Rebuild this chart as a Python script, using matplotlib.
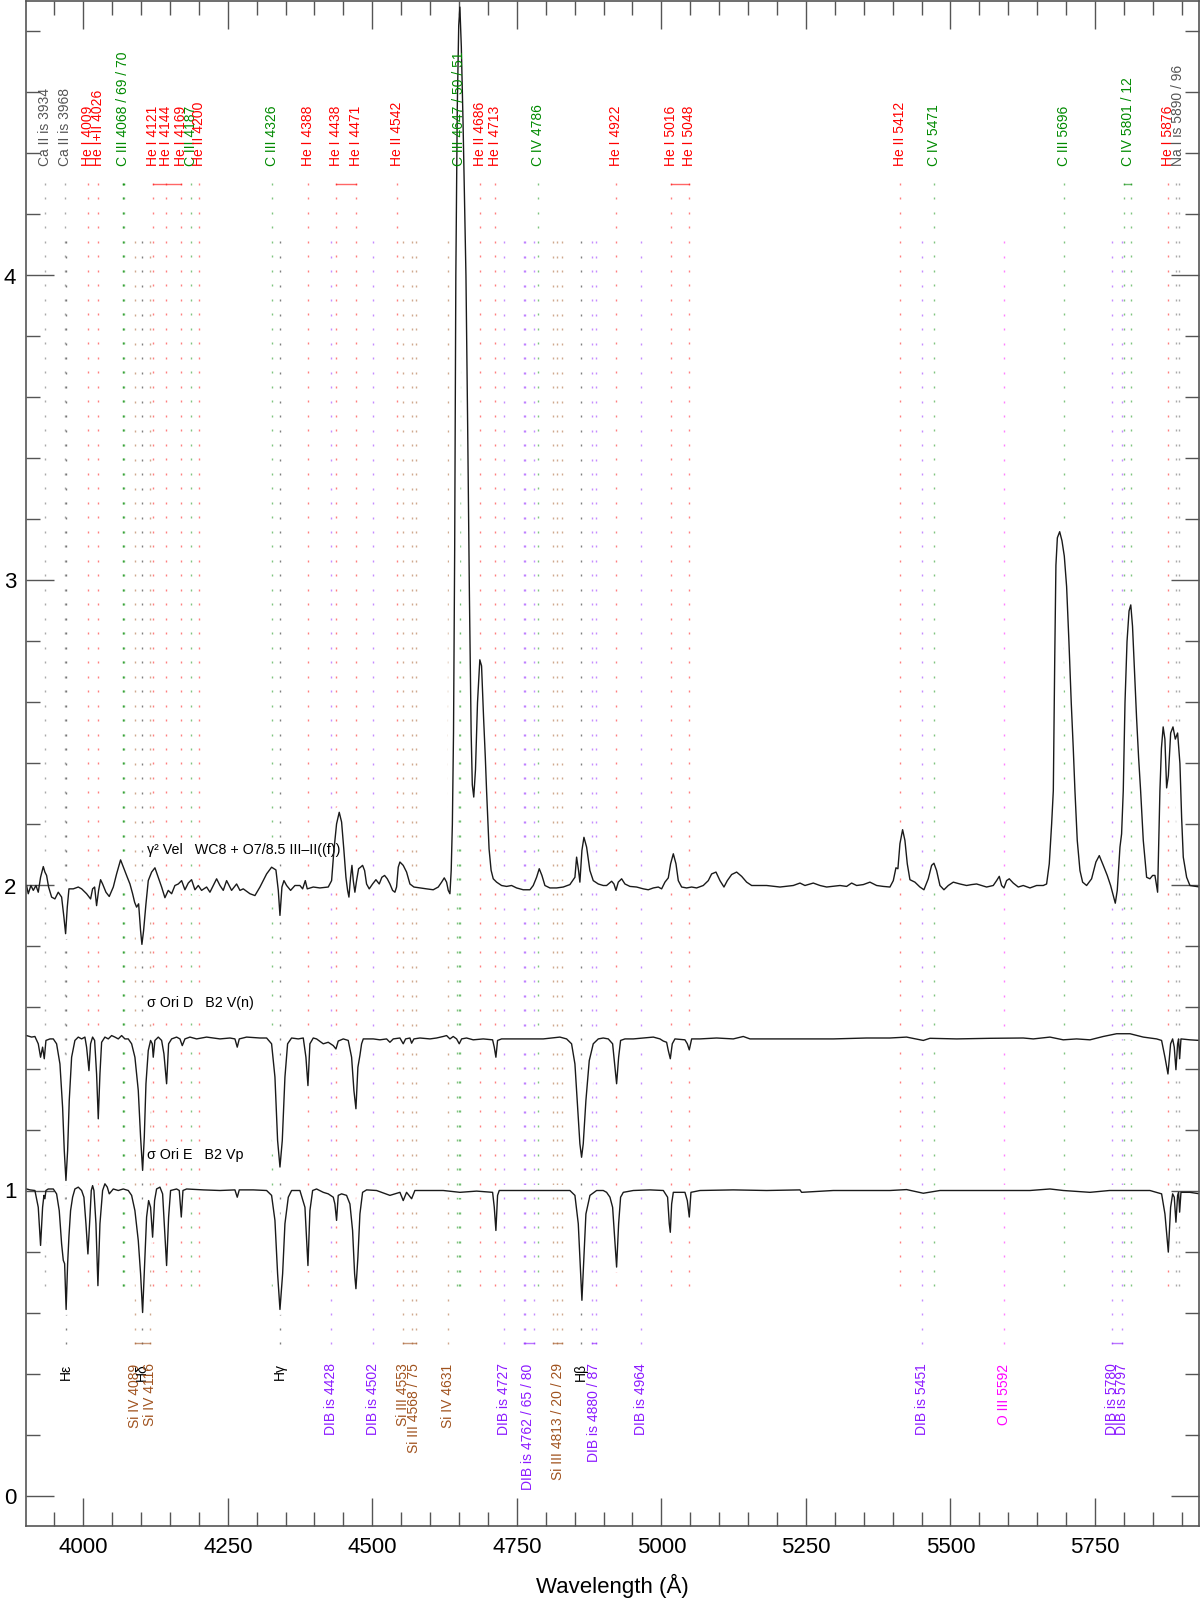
import numpy as np
import matplotlib.pyplot as plt
from matplotlib.ticker import MultipleLocator

plt.rcParams['font.family'] = ['Liberation Sans', 'DejaVu Sans']

# ---- spectra (flux already offset as plotted) ----
vel_wave = [3902.0, 3904.9, 3909.5, 3913.6, 3918.2, 3922.2, 3926.2, 3930.9, 3933.7, 3936.6,
            3940.1, 3945.3, 3951.0, 3956.8, 3962.6, 3966.6, 3969.5, 3972.4, 3975.3, 3982.8,
            3991.4, 3997.2, 4005.8, 4012.7, 4016.2, 4019.7, 4023.1, 4026.6, 4030.0, 4033.5,
            4039.3, 4045.0, 4052.0, 4057.7, 4064.6, 4070.4, 4076.2, 4080.8, 4085.4, 4088.9,
            4092.3, 4095.8, 4099.2, 4101.5, 4104.4, 4108.5, 4112.5, 4118.3, 4124.0, 4129.8,
            4135.6, 4141.3, 4147.1, 4152.9, 4158.6, 4164.4, 4170.2, 4175.9, 4181.7, 4187.4,
            4193.2, 4199.0, 4204.7, 4213.4, 4219.2, 4224.9, 4230.7, 4236.5, 4242.2, 4248.0,
            4256.6, 4265.3, 4271.1, 4276.8, 4288.4, 4297.0, 4305.7, 4317.2, 4325.8, 4333.3,
            4337.4, 4340.3, 4343.7, 4347.2, 4351.8, 4358.7, 4366.2, 4374.8, 4379.5, 4384.1,
            4387.5, 4397.9, 4409.4, 4423.8, 4429.6, 4433.6, 4438.2, 4442.8, 4446.9, 4450.9,
            4454.4, 4457.3, 4459.6, 4462.4, 4464.8, 4467.1, 4469.9, 4472.8, 4476.3, 4479.7,
            4483.2, 4486.7, 4490.1, 4494.7, 4500.5, 4506.3, 4512.0, 4516.6, 4521.3, 4525.9,
            4530.5, 4535.1, 4539.1, 4542.0, 4544.9, 4547.8, 4553.5, 4559.3, 4565.1, 4572.0,
            4582.4, 4593.9, 4605.4, 4614.1, 4619.9, 4624.5, 4628.5, 4631.4, 4634.3, 4636.5,
            4638.5, 4640.5, 4642.5, 4644.5, 4647.0, 4649.5, 4651.5, 4654.0, 4657.0, 4660.0,
            4662.0, 4665.0, 4668.0, 4671.0, 4673.0, 4675.5, 4678.5, 4682.0, 4686.0, 4689.0,
            4692.5, 4695.5, 4697.7, 4702.0, 4705.5, 4709.2, 4715.0, 4723.6, 4732.3, 4740.9,
            4749.6, 4761.1, 4772.7, 4778.4, 4784.2, 4788.8, 4793.4, 4798.6, 4807.2, 4818.8,
            4830.3, 4841.8, 4850.5, 4853.4, 4856.8, 4859.1, 4862.6, 4866.1, 4870.7, 4876.4,
            4882.2, 4890.9, 4899.5, 4905.3, 4914.0, 4918.0, 4921.5, 4925.5, 4931.3, 4937.0,
            4945.7, 4957.2, 4968.8, 4977.4, 4986.1, 4994.7, 5000.5, 5006.2, 5012.0, 5016.0,
            5020.7, 5025.3, 5029.3, 5035.1, 5043.7, 5052.4, 5061.0, 5072.5, 5081.2, 5087.0,
            5094.5, 5101.4, 5108.3, 5114.1, 5121.6, 5130.2, 5138.9, 5147.5, 5156.2, 5182.1,
            5205.2, 5228.2, 5239.8, 5248.4, 5262.8, 5274.4, 5285.9, 5309.0, 5320.5, 5329.1,
            5337.8, 5349.3, 5360.8, 5372.4, 5383.9, 5395.4, 5401.2, 5405.8, 5409.2, 5412.7,
            5417.3, 5421.3, 5425.4, 5430.0, 5438.6, 5447.3, 5454.2, 5461.7, 5467.5, 5471.5,
            5476.1, 5481.9, 5488.8, 5496.3, 5505.0, 5516.5, 5528.0, 5536.7, 5545.3, 5554.0,
            5562.6, 5574.1, 5579.9, 5584.5, 5588.6, 5592.6, 5597.2, 5601.8, 5608.7, 5617.4,
            5626.0, 5637.6, 5649.1, 5660.6, 5666.4, 5671.0, 5675.1, 5678.0, 5680.5, 5682.5,
            5685.0, 5689.0, 5693.0, 5697.0, 5701.0, 5705.0, 5709.0, 5712.5, 5715.4, 5719.4,
            5724.1, 5728.7, 5735.6, 5744.2, 5751.7, 5757.5, 5764.4, 5771.3, 5777.1, 5781.7,
            5785.2, 5788.6, 5793.3, 5796.1, 5799.0, 5802.0, 5805.5, 5809.0, 5812.0, 5815.0,
            5818.5, 5822.0, 5825.5, 5829.0, 5833.6, 5839.4, 5845.1, 5849.8, 5853.8, 5858.4,
            5862.4, 5865.0, 5868.0, 5871.0, 5874.0, 5877.0, 5881.0, 5885.0, 5889.0, 5893.0,
            5897.0, 5900.0, 5902.8, 5908.6, 5914.3, 5931.6]
vel_flux = [2.000, 1.973, 2.000, 1.984, 2.000, 1.978, 2.027, 2.062, 2.044, 2.033,
            1.995, 1.962, 1.956, 1.978, 1.962, 1.896, 1.842, 1.929, 1.989, 1.989,
            1.995, 1.989, 1.973, 1.956, 1.989, 1.995, 1.934, 1.984, 2.019, 2.005,
            1.978, 1.964, 1.995, 2.038, 2.084, 2.055, 2.027, 2.005, 1.973, 1.945,
            1.929, 1.940, 1.852, 1.807, 1.852, 1.940, 2.016, 2.044, 2.058, 2.027,
            1.995, 1.960, 1.984, 1.973, 2.000, 2.005, 2.016, 1.986, 2.008, 2.019,
            1.986, 2.000, 1.984, 1.995, 1.978, 2.000, 2.022, 2.000, 1.984, 2.016,
            1.984, 2.005, 1.984, 1.989, 1.973, 1.967, 1.995, 2.038, 2.060, 2.051,
            1.984, 1.902, 1.995, 2.016, 2.000, 1.984, 2.000, 2.000, 1.989, 2.016,
            1.989, 1.995, 1.992, 1.995, 2.016, 2.115, 2.202, 2.240, 2.208, 2.115,
            2.027, 1.984, 1.962, 2.027, 2.066, 2.016, 1.978, 2.016, 2.055, 2.060,
            2.066, 2.049, 2.005, 1.989, 2.005, 2.019, 2.005, 2.027, 2.033, 2.022,
            2.005, 1.984, 1.978, 1.995, 2.060, 2.077, 2.066, 2.044, 2.005, 1.995,
            1.992, 1.989, 1.986, 1.995, 2.011, 2.025, 2.011, 1.984, 1.973, 2.050,
            2.200, 2.500, 3.100, 4.000, 4.550, 4.820, 4.880, 4.750, 4.500, 4.200,
            4.000, 3.500, 2.950, 2.500, 2.330, 2.290, 2.380, 2.600, 2.740, 2.720,
            2.550, 2.420, 2.310, 2.120, 2.050, 2.022, 2.011, 2.000, 1.997, 2.000,
            1.992, 1.986, 1.986, 2.000, 2.027, 2.055, 2.033, 2.000, 1.992, 1.992,
            1.995, 2.003, 2.027, 2.093, 2.049, 2.011, 2.115, 2.158, 2.126, 2.049,
            2.016, 2.005, 2.000, 2.000, 2.014, 2.005, 1.984, 2.011, 2.022, 2.005,
            1.997, 1.995, 1.989, 1.986, 1.992, 1.995, 1.989, 2.011, 2.025, 2.071,
            2.104, 2.071, 2.016, 1.995, 1.992, 1.995, 1.992, 2.000, 2.016, 2.038,
            2.044, 2.016, 1.995, 2.016, 2.036, 2.044, 2.030, 2.011, 2.000, 2.000,
            1.995, 2.000, 2.008, 2.000, 2.008, 2.000, 1.995, 2.000, 1.997, 2.008,
            2.000, 2.003, 2.011, 2.000, 1.997, 1.995, 2.016, 2.058, 2.055, 2.137,
            2.183, 2.148, 2.071, 2.019, 2.011, 1.995, 1.986, 2.022, 2.066, 2.073,
            2.049, 2.000, 1.986, 2.000, 2.011, 2.005, 2.000, 2.003, 2.005, 2.000,
            1.995, 2.000, 2.016, 2.030, 2.000, 1.992, 2.016, 2.022, 2.008, 1.995,
            2.000, 1.992, 2.000, 2.000, 2.005, 2.071, 2.202, 2.311, 2.750, 3.050,
            3.140, 3.160, 3.130, 3.080, 2.980, 2.800, 2.600, 2.450, 2.311, 2.148,
            2.049, 2.011, 2.000, 2.022, 2.077, 2.098, 2.066, 2.033, 2.000, 1.967,
            1.942, 1.984, 2.126, 2.169, 2.311, 2.600, 2.800, 2.900, 2.920, 2.850,
            2.700, 2.550, 2.420, 2.311, 2.148, 2.027, 2.022, 2.033, 2.033, 1.978,
            2.311, 2.450, 2.520, 2.480, 2.320, 2.360, 2.500, 2.520, 2.480, 2.500,
            2.400, 2.220, 2.093, 2.027, 2.000, 1.995]

orid_wave = [3902.0, 3910.7, 3916.4, 3922.2, 3926.2, 3929.7, 3932.6, 3935.5, 3942.4, 3948.2,
             3953.9, 3959.7, 3964.3, 3967.2, 3970.1, 3973.0, 3975.8, 3979.9, 3985.6, 3991.4,
             3997.2, 4002.9, 4005.8, 4009.9, 4012.7, 4016.2, 4019.7, 4023.1, 4026.0, 4028.9,
             4031.8, 4037.5, 4043.3, 4049.1, 4054.8, 4060.6, 4066.4, 4072.1, 4077.9, 4083.7,
             4089.4, 4095.2, 4099.2, 4102.7, 4105.6, 4108.5, 4112.5, 4116.5, 4119.4, 4121.1,
             4124.0, 4129.8, 4135.6, 4139.6, 4144.2, 4147.7, 4152.9, 4161.5, 4167.3, 4171.3,
             4175.9, 4184.6, 4196.1, 4213.4, 4236.5, 4253.8, 4262.4, 4266.4, 4269.9, 4282.6,
             4305.7, 4317.2, 4325.8, 4331.6, 4336.2, 4340.3, 4344.3, 4348.9, 4353.5, 4360.4,
             4372.0, 4380.6, 4385.2, 4388.7, 4392.1, 4397.9, 4403.6, 4415.2, 4423.8, 4432.5,
             4437.1, 4441.1, 4449.8, 4458.4, 4464.2, 4468.2, 4471.7, 4475.1, 4478.6, 4481.5,
             4484.4, 4501.7, 4513.2, 4524.7, 4530.5, 4536.3, 4547.8, 4553.5, 4557.6, 4565.1,
             4568.0, 4572.0, 4582.4, 4599.7, 4611.2, 4622.7, 4628.5, 4634.3, 4640.0, 4645.8,
             4650.4, 4654.5, 4663.1, 4674.6, 4691.9, 4708.1, 4711.0, 4713.8, 4716.7, 4723.6,
             4766.9, 4795.7, 4824.5, 4836.1, 4844.7, 4850.5, 4855.1, 4859.1, 4862.0, 4864.9,
             4869.5, 4875.3, 4882.2, 4890.9, 4899.5, 4908.2, 4915.7, 4919.2, 4922.6, 4926.1,
             4929.5, 4937.0, 4951.5, 4968.8, 4986.1, 4997.6, 5003.4, 5009.1, 5012.0, 5015.5,
             5018.9, 5023.5, 5040.8, 5044.9, 5048.3, 5052.4, 5066.8, 5095.6, 5124.4, 5141.7,
             5153.3, 5182.1, 5239.8, 5297.4, 5355.1, 5395.4, 5424.2, 5453.1, 5464.6, 5510.7,
             5568.4, 5626.0, 5643.3, 5672.2, 5695.2, 5718.3, 5741.4, 5764.4, 5787.5, 5810.6,
             5833.6, 5856.7, 5865.3, 5871.1, 5876.3, 5880.9, 5884.4, 5887.2, 5890.1, 5893.0,
             5894.7, 5896.5, 5898.8, 5914.3, 5931.6]
orid_flux = [1.508, 1.503, 1.505, 1.481, 1.437, 1.470, 1.432, 1.492, 1.497, 1.497,
             1.481, 1.415, 1.273, 1.131, 1.033, 1.131, 1.295, 1.437, 1.492, 1.503,
             1.497, 1.503, 1.470, 1.393, 1.481, 1.503, 1.492, 1.382, 1.235, 1.382,
             1.486, 1.503, 1.497, 1.508, 1.503, 1.497, 1.508, 1.497, 1.497, 1.481,
             1.437, 1.328, 1.175, 1.066, 1.175, 1.350, 1.459, 1.492, 1.481, 1.437,
             1.492, 1.503, 1.492, 1.448, 1.350, 1.481, 1.497, 1.503, 1.497, 1.475,
             1.497, 1.503, 1.497, 1.503, 1.497, 1.500, 1.497, 1.470, 1.497, 1.503,
             1.500, 1.500, 1.481, 1.372, 1.164, 1.077, 1.164, 1.372, 1.481, 1.500,
             1.497, 1.500, 1.437, 1.344, 1.481, 1.500, 1.497, 1.481, 1.486, 1.475,
             1.464, 1.490, 1.497, 1.492, 1.437, 1.328, 1.268, 1.404, 1.443, 1.481,
             1.497, 1.497, 1.494, 1.497, 1.486, 1.497, 1.500, 1.481, 1.497, 1.500,
             1.483, 1.497, 1.500, 1.497, 1.500, 1.505, 1.508, 1.497, 1.505, 1.497,
             1.481, 1.497, 1.500, 1.494, 1.497, 1.494, 1.470, 1.437, 1.492, 1.497,
             1.497, 1.497, 1.503, 1.497, 1.481, 1.415, 1.273, 1.153, 1.109, 1.153,
             1.295, 1.426, 1.481, 1.497, 1.500, 1.497, 1.481, 1.415, 1.350, 1.437,
             1.492, 1.497, 1.497, 1.500, 1.503, 1.497, 1.490, 1.486, 1.459, 1.432,
             1.481, 1.497, 1.494, 1.481, 1.461, 1.497, 1.497, 1.500, 1.497, 1.505,
             1.497, 1.497, 1.497, 1.497, 1.500, 1.500, 1.503, 1.492, 1.499, 1.497,
             1.499, 1.500, 1.497, 1.503, 1.494, 1.497, 1.494, 1.505, 1.514, 1.514,
             1.503, 1.497, 1.492, 1.437, 1.382, 1.481, 1.497, 1.470, 1.396, 1.481,
             1.497, 1.432, 1.497, 1.494, 1.492]

orie_wave = [3902.0, 3907.8, 3916.4, 3922.2, 3926.2, 3929.7, 3932.0, 3933.7, 3935.5, 3939.5,
             3948.2, 3953.9, 3958.5, 3962.6, 3965.5, 3967.8, 3970.4, 3973.0, 3975.3, 3978.1,
             3981.6, 3985.6, 3991.4, 3997.2, 4001.2, 4004.7, 4008.1, 4011.6, 4013.9, 4016.2,
             4018.5, 4022.0, 4025.4, 4028.9, 4033.5, 4037.5, 4041.6, 4045.0, 4052.0, 4060.6,
             4069.2, 4077.9, 4083.7, 4089.4, 4095.2, 4099.2, 4102.7, 4106.7, 4109.6, 4113.1,
             4116.5, 4120.0, 4123.4, 4126.9, 4132.7, 4137.3, 4140.2, 4144.2, 4147.7, 4151.1,
             4161.5, 4166.1, 4169.6, 4172.5, 4178.8, 4207.6, 4236.5, 4262.4, 4266.4, 4269.9,
             4294.1, 4317.2, 4325.8, 4331.6, 4336.2, 4340.3, 4344.9, 4348.9, 4354.7, 4360.4,
             4374.8, 4383.5, 4388.7, 4392.1, 4396.8, 4403.6, 4415.2, 4423.8, 4432.5, 4435.3,
             4438.2, 4441.1, 4446.9, 4455.5, 4461.3, 4465.9, 4469.4, 4471.7, 4475.1, 4478.6,
             4483.2, 4490.1, 4507.4, 4530.5, 4547.8, 4553.5, 4559.3, 4568.0, 4573.7, 4593.9,
             4622.7, 4651.6, 4680.4, 4708.1, 4711.0, 4713.8, 4716.7, 4719.6, 4766.9, 4795.7,
             4841.8, 4850.5, 4856.3, 4860.3, 4862.6, 4866.1, 4869.5, 4876.5, 4888.0, 4899.5,
             4905.3, 4911.1, 4915.7, 4919.2, 4922.6, 4926.1, 4929.5, 4934.2, 4951.5, 4980.3,
             5003.4, 5010.8, 5013.7, 5015.5, 5017.8, 5020.7, 5040.8, 5044.9, 5048.3, 5051.2,
             5066.8, 5124.4, 5182.1, 5239.8, 5242.6, 5297.4, 5355.1, 5395.4, 5424.2, 5453.1,
             5481.9, 5539.6, 5597.2, 5637.6, 5672.2, 5695.2, 5741.4, 5775.2, 5799.0, 5845.1,
             5865.3, 5871.1, 5876.9, 5880.9, 5884.4, 5887.2, 5890.1, 5893.0, 5894.7, 5896.5,
             5898.8, 5914.3, 5931.6]
orie_flux = [1.005, 1.002, 1.000, 0.945, 0.820, 0.945, 0.984, 0.973, 1.000, 1.005,
             1.005, 0.989, 0.934, 0.825, 0.771, 0.760, 0.610, 0.760, 0.850, 0.934,
             0.978, 1.005, 1.011, 1.000, 0.978, 0.891, 0.792, 0.913, 1.000, 1.016,
             1.000, 0.891, 0.688, 0.891, 1.000, 1.022, 1.011, 0.989, 1.005, 1.000,
             1.005, 1.000, 0.984, 0.934, 0.836, 0.727, 0.600, 0.781, 0.913, 0.967,
             0.945, 0.847, 0.967, 1.005, 1.011, 0.989, 0.891, 0.754, 0.913, 1.000,
             1.005, 1.000, 0.913, 1.000, 1.005, 1.002, 1.000, 1.002, 0.978, 1.002,
             1.002, 1.000, 0.984, 0.902, 0.727, 0.610, 0.727, 0.891, 0.978, 1.000,
             1.000, 0.945, 0.754, 0.934, 1.000, 1.005, 0.994, 0.989, 0.978, 0.956,
             0.902, 0.984, 0.989, 0.984, 0.956, 0.869, 0.727, 0.678, 0.781, 0.923,
             0.994, 1.002, 1.000, 0.984, 0.994, 0.967, 0.994, 0.973, 1.000, 1.000,
             1.000, 0.994, 0.998, 0.994, 0.945, 0.869, 0.984, 1.000, 1.000, 1.000,
             1.000, 0.984, 0.891, 0.727, 0.640, 0.781, 0.923, 0.984, 1.000, 1.000,
             0.994, 0.978, 0.945, 0.847, 0.749, 0.891, 0.978, 0.994, 1.000, 1.002,
             1.000, 0.978, 0.891, 0.863, 0.956, 0.994, 0.994, 0.967, 0.913, 0.994,
             1.000, 1.002, 1.000, 1.002, 0.994, 1.000, 1.000, 1.000, 1.003, 0.991,
             1.000, 1.000, 1.000, 1.000, 1.005, 1.000, 0.994, 1.000, 1.000, 1.000,
             0.989, 0.923, 0.798, 0.945, 0.989, 0.978, 0.896, 0.984, 0.994, 0.929,
             0.994, 0.994, 0.989]

star_names = ['\u03b3\u00b2 Vel   WC8 + O7/8.5 III\u2013II((f))',
              '\u03c3 Ori D   B2 V(n)',
              '\u03c3 Ori E   B2 Vp']
star_levels = [2.0, 1.5, 1.0]

# ---- line identifications ----
top_labels = ['Ca II is 3934', 'Ca II is 3968', 'He I 4009', 'He I+II 4026', 'C III 4068 / 69 / 70',
              'He I 4121', 'He I 4144', 'He I 4169', 'C III 4187', 'He II 4200', 'C III 4326',
              'He I 4388', 'He I 4438', 'He I 4471', 'He II 4542', 'C III 4647 / 50 / 51',
              'He II 4686', 'He I 4713', 'C IV 4786', 'He I 4922', 'He I 5016', 'He I 5048',
              'He II 5412', 'C IV 5471', 'C III 5696', 'C IV 5801 / 12', 'He I 5876',
              'Na I is 5890 / 96']
top_waves = [[3934], [3968], [4009], [4026], [4068, 4069, 4070], [4121], [4144], [4169], [4187],
             [4200], [4326], [4388], [4438], [4471], [4542], [4647, 4650, 4651], [4686], [4713],
             [4786], [4922], [5016], [5048], [5412], [5471], [5696], [5801, 5812], [5876],
             [5890, 5896]]
top_bars = [(4068, 4070), (4121, 4169), (4438, 4471), (4647, 4651), (5016, 5048), (5801, 5812)]

bottom_labels = ['H\u03b5', 'Si IV 4089', 'H\u03b4', 'Si IV 4116', 'H\u03b3', 'DIB is 4428',
                 'DIB is 4502', 'Si III 4553', 'Si III 4568 / 75', 'Si IV 4631', 'DIB is 4727',
                 'DIB is 4762 / 65 / 80', 'Si III 4813 / 20 / 29', 'H\u03b2', 'DIB is 4880 / 87',
                 'DIB is 4964', 'DIB is 5451', 'O III 5592', 'DIB is 5780', 'DIB is 5797']
bottom_waves = [[3970], [4089], [4102], [4116], [4340], [4428], [4502], [4553], [4568, 4575],
                [4631], [4727], [4762, 4765, 4780], [4813, 4820, 4829], [4861], [4880, 4887],
                [4964], [5451], [5592], [5780], [5797]]
bottom_bars = [(4089, 4116), (4553, 4575), (4762, 4780), (4813, 4829), (4880, 4887), (5780, 5797)]


def species_color(label):
    if label.startswith('He'):
        return '#ff0000'
    if label.startswith('C '):
        return '#008a00'
    if label.startswith('Ca') or label.startswith('Na'):
        return '#555555'
    if label.startswith('Si'):
        return '#a0521e'
    if label.startswith('DIB'):
        return '#8c1aff'
    if label.startswith('O '):
        return '#ff00ff'
    return '#000000'


def bar_color(w0, labels, waves):
    for lab, ws in zip(labels, waves):
        if w0 in ws:
            return species_color(lab)
    return '#000000'


fig = plt.figure(figsize=(12, 16.01), dpi=100)
ax = fig.add_axes([26 / 1200, 75 / 1601, 1173 / 1200, 1525 / 1601])

step = 0.0475
ndots = 77
top_start = 4.30
bot_start = 4.109

for labels, waves, start, bars in [(top_labels, top_waves, top_start, top_bars),
                                   (bottom_labels, bottom_waves, bot_start, bottom_bars)]:
    ys = start - step * np.arange(ndots)
    for lab, ws in zip(labels, waves):
        c = species_color(lab)
        for w in ws:
            ax.plot(np.full(ndots, w), ys, ls='none', marker='|', ms=1.9, mew=1.0,
                    color=c, alpha=0.5, zorder=1)
    ybar = ys[0] if start == top_start else ys[-1]
    for w0, w1 in bars:
        ax.plot([w0, w1], [ybar, ybar], color=bar_color(w0, labels, waves), lw=1.0,
                alpha=0.6, zorder=1)

# top labels
for lab, ws in zip(top_labels, top_waves):
    ax.text(np.mean(ws), 4.36, lab, rotation=90, ha='center', va='bottom',
            fontsize=10, color=species_color(lab), zorder=3)
# bottom labels
for lab, ws in zip(bottom_labels, bottom_waves):
    ax.text(np.mean(ws), 0.433, lab, rotation=90, ha='center', va='top',
            fontsize=10, color=species_color(lab), zorder=3)

# spectra with white halo so the markers stop near the curves
for w, f in [(vel_wave, vel_flux), (orid_wave, orid_flux), (orie_wave, orie_flux)]:
    ax.plot(w, f, color='white', lw=8, zorder=1.5, solid_capstyle='round')
    ax.plot(w, f, color='#1a1a1a', lw=1.0, zorder=2)

for name, lev in zip(star_names, star_levels):
    ax.text(4110, lev + 0.115, name, fontsize=10.3, ha='left', va='center', zorder=1.8,
            bbox=dict(facecolor='white', edgecolor='none', pad=1.5))

ax.set_xlim(3901, 5930)
ax.set_ylim(-0.1, 4.9)
ax.xaxis.set_major_locator(MultipleLocator(250))
ax.xaxis.set_minor_locator(MultipleLocator(50))
ax.yaxis.set_major_locator(MultipleLocator(1))
ax.yaxis.set_minor_locator(MultipleLocator(0.2))
ax.tick_params(which='both', direction='in', top=True, right=True, color='#555555',
               width=1.0, labelsize=16)
ax.tick_params(axis='x', which='major', length=20, pad=8)
ax.tick_params(axis='y', which='major', length=20, pad=7)
ax.tick_params(which='minor', length=10)
for sp in ax.spines.values():
    sp.set_color('#555555')
    sp.set_linewidth(1.2)
ax.set_xlabel('Wavelength (\u00c5)', fontsize=16, labelpad=11)

fig.savefig('out.png', dpi=100)
